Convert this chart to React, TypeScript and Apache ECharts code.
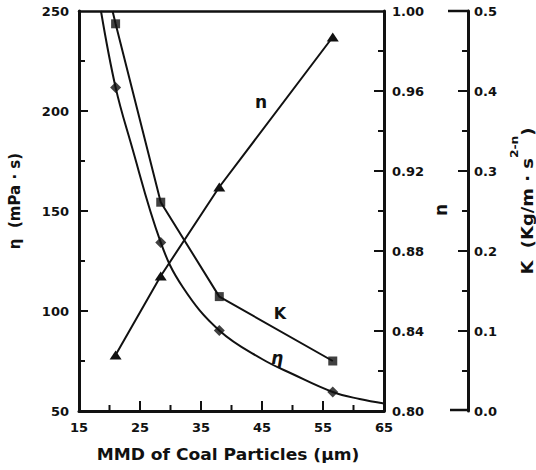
import React, { useEffect, useRef } from "react";
import * as echarts from "echarts";

// Mass median diameter of the coal particles (µm)
const mmd = [21.0, 28.4, 38.0, 56.6];
// Apparent viscosity η (mPa·s), consistency index K and flow index n
const etaValues = [211.8, 134.3, 90.3, 59.5];
const kValues = [0.484, 0.261, 0.143, 0.0625];
const nValues = [0.828, 0.8675, 0.912, 0.987];

// Fitted viscosity curve traced across the whole axis range
const etaCurveX = [18.6, 21.0, 23.4, 28.4, 32, 38, 45, 50, 56.6, 61, 65];
const etaCurveY = [250, 211.8, 185, 134.3, 112, 90.3, 76, 68.5, 59.5, 56, 53.8];

// The K trace runs on past its first point up to the top of the frame
const kLeadX = 20.5;
const kLeadY = 0.5;

// Tick positions (inward-pointing marks on every scale)
const xMajor = [25, 35, 45, 55];
const xMinor = [20, 30, 40, 50, 60];
const etaMajor = [100, 150, 200];
const etaMinor = [75, 125, 175, 225];
const nMajor = [0.84, 0.88, 0.92, 0.96];
const nMinor = [0.82, 0.86, 0.9, 0.94, 0.98];
const kMajor = [0.1, 0.2, 0.3, 0.4];
const kMinor = [0.05, 0.15, 0.25, 0.35, 0.45];
const xLabelTicks = [15, 25, 35, 45, 55, 65];

const FONT = "DejaVu Sans";
const INK = "#111";
const K_OFFSET = 84;

export default function App() {
  const ref = useRef<HTMLDivElement>(null);

  useEffect(() => {
    if (!ref.current) return;
    const chart = echarts.init(ref.current, undefined, { renderer: "svg" });

    const tickLabel = { color: INK, fontFamily: FONT, fontWeight: "bold" as const, fontSize: 13 };
    const axisLine = { show: true, lineStyle: { color: INK, width: 3 } };
    const noTicks = { show: false };

    const etaCurve = etaCurveX.map((x, i) => [x, etaCurveY[i]]);
    const etaPts = mmd.map((x, i) => [x, etaValues[i]]);
    const kLine = [[kLeadX, kLeadY], ...mmd.map((x, i) => [x, kValues[i]])];
    const kPts = mmd.map((x, i) => [x, kValues[i]]);
    const nPts = mmd.map((x, i) => [x, nValues[i]]);

    chart.setOption({
      animation: false,
      grid: {
        left: 79,
        right: 152,
        top: 11,
        bottom: 59,
        show: false,
      },
      xAxis: [
        {
          type: "value",
          min: 15,
          max: 65,
          interval: 5,
          position: "bottom",
          axisLine,
          axisTick: noTicks,
          axisLabel: {
            ...tickLabel,
            margin: 10,
            formatter: (v: number) => (xLabelTicks.includes(v) ? String(v) : ""),
          },
          splitLine: { show: false },
        },
        {
          // plain top edge of the frame
          type: "value",
          min: 15,
          max: 65,
          position: "top",
          axisLine: { show: true, lineStyle: { color: INK, width: 2.5 } },
          axisTick: noTicks,
          axisLabel: { show: false },
          splitLine: { show: false },
        },
      ],
      yAxis: [
        {
          type: "value",
          min: 50,
          max: 250,
          interval: 50,
          position: "left",
          axisLine,
          axisTick: noTicks,
          axisLabel: { ...tickLabel, margin: 10 },
          splitLine: { show: false },
        },
        {
          type: "value",
          min: 0.8,
          max: 1.0,
          interval: 0.04,
          position: "right",
          axisLine,
          axisTick: noTicks,
          axisLabel: { ...tickLabel, margin: 8, formatter: (v: number) => v.toFixed(2) },
          splitLine: { show: false },
        },
        {
          type: "value",
          min: 0,
          max: 0.5,
          interval: 0.1,
          position: "right",
          offset: K_OFFSET,
          axisLine,
          axisTick: noTicks,
          axisLabel: { ...tickLabel, margin: 6, formatter: (v: number) => v.toFixed(1) },
          splitLine: { show: false },
        },
      ],
      series: [
        {
          name: "η fit",
          type: "line",
          yAxisIndex: 0,
          data: etaCurve,
          smooth: 0.4,
          showSymbol: false,
          symbol: "none",
          lineStyle: { color: INK, width: 2 },
        },
        {
          name: "η",
          type: "scatter",
          yAxisIndex: 0,
          data: etaPts,
          symbol: "diamond",
          symbolSize: [11, 11],
          itemStyle: { color: INK },
        },
        {
          name: "K",
          type: "line",
          yAxisIndex: 2,
          data: kLine,
          symbol: "none",
          lineStyle: { color: INK, width: 2 },
        },
        {
          name: "K points",
          type: "scatter",
          yAxisIndex: 2,
          data: kPts,
          symbol: "rect",
          symbolSize: 9,
          itemStyle: { color: INK },
        },
        {
          name: "n",
          type: "line",
          yAxisIndex: 1,
          data: nPts,
          symbol: "triangle",
          symbolSize: [12, 9],
          showSymbol: true,
          itemStyle: { color: INK },
          lineStyle: { color: INK, width: 2 },
        },
      ],
    });

    // Tick marks placed through the axes' own scales
    const toPx = (yAxisIndex: number, x: number, y: number) =>
      chart.convertToPixel({ xAxisIndex: 0, yAxisIndex }, [x, y]) as number[];
    const [xLeft, yBottom] = toPx(0, 15, 50);
    const [xRight, yTop] = toPx(0, 65, 250);
    const kAxisX = xRight + K_OFFSET;
    const tick = (x1: number, y1: number, x2: number, y2: number) => ({
      type: "line",
      silent: true,
      z: 50,
      shape: { x1, y1, x2, y2 },
      style: { stroke: INK, lineWidth: 2 },
    });
    const ticks: any[] = [];
    xMajor.forEach((v) => {
      const x = toPx(0, v, 50)[0];
      ticks.push(tick(x, yBottom, x, yBottom - 10));
    });
    xMinor.forEach((v) => {
      const x = toPx(0, v, 50)[0];
      ticks.push(tick(x, yBottom, x, yBottom - 6));
    });
    etaMajor.forEach((v) => {
      const y = toPx(0, 15, v)[1];
      ticks.push(tick(xLeft, y, xLeft + 9, y));
    });
    etaMinor.forEach((v) => {
      const y = toPx(0, 15, v)[1];
      ticks.push(tick(xLeft, y, xLeft + 6, y));
    });
    nMajor.forEach((v) => {
      const y = toPx(1, 65, v)[1];
      ticks.push(tick(xRight, y, xRight - 10, y));
    });
    nMinor.forEach((v) => {
      const y = toPx(1, 65, v)[1];
      ticks.push(tick(xRight, y, xRight - 6, y));
    });
    kMajor.forEach((v) => {
      const y = toPx(2, 65, v)[1];
      ticks.push(tick(kAxisX, y, kAxisX - 10, y));
    });
    kMinor.forEach((v) => {
      const y = toPx(2, 65, v)[1];
      ticks.push(tick(kAxisX, y, kAxisX - 6, y));
    });

    chart.setOption({
      graphic: [
        ...ticks,
        // caps closing the K scale at both ends
        { type: "line", z: 50, shape: { x1: kAxisX - 20, y1: yTop, x2: kAxisX + 1, y2: yTop }, style: { stroke: INK, lineWidth: 2.5 } },
        { type: "line", z: 50, shape: { x1: kAxisX - 18, y1: yBottom - 1, x2: kAxisX + 1, y2: yBottom - 1 }, style: { stroke: INK, lineWidth: 2.5 } },
        // curve labels
        {
          type: "text",
          x: 261,
          y: 102,
          style: { text: "n", font: `bold 17px "${FONT}"`, fill: INK, align: "center", verticalAlign: "middle" },
        },
        {
          type: "text",
          x: 280,
          y: 313,
          style: { text: "K", font: `bold 16px "${FONT}"`, fill: INK, align: "center", verticalAlign: "middle" },
        },
        {
          type: "text",
          x: 277,
          y: 358,
          style: { text: "η", font: `italic bold 17px "${FONT}"`, fill: INK, align: "center", verticalAlign: "middle" },
        },
        // axis titles
        {
          type: "text",
          x: 228,
          y: 455,
          scaleX: 1.14,
          style: {
            text: "MMD of Coal Particles (μm)",
            font: `bold 15px "${FONT}"`,
            fill: INK,
            align: "center",
            verticalAlign: "middle",
          },
        },
        {
          type: "text",
          x: 15,
          y: 201,
          rotation: Math.PI / 2,
          style: {
            text: "η  (mPa · s)",
            font: `bold 15px "${FONT}"`,
            fill: INK,
            align: "center",
            verticalAlign: "middle",
          },
        },
        {
          type: "text",
          x: 441,
          y: 210,
          rotation: Math.PI / 2,
          style: { text: "n", font: `bold 17px "${FONT}"`, fill: INK, align: "center", verticalAlign: "middle" },
        },
        {
          type: "text",
          x: 522,
          y: 201,
          rotation: Math.PI / 2,
          scaleX: 1.12,
          style: {
            text: "{m|K  (Kg/m · s}{s|2-n}{m|)}",
            fill: INK,
            align: "center",
            verticalAlign: "middle",
            rich: {
              m: { font: `bold 16px "${FONT}"`, fill: INK, lineHeight: 26, verticalAlign: "bottom" },
              s: { font: `bold 11px "${FONT}"`, fill: INK, lineHeight: 13, verticalAlign: "top" },
            },
          },
        },
      ],
    });

    return () => chart.dispose();
  }, []);

  return (
    <div
      ref={ref}
      style={{ position: "fixed", left: 0, top: 0, width: 536, height: 470, background: "#fff" }}
    />
  );
}
